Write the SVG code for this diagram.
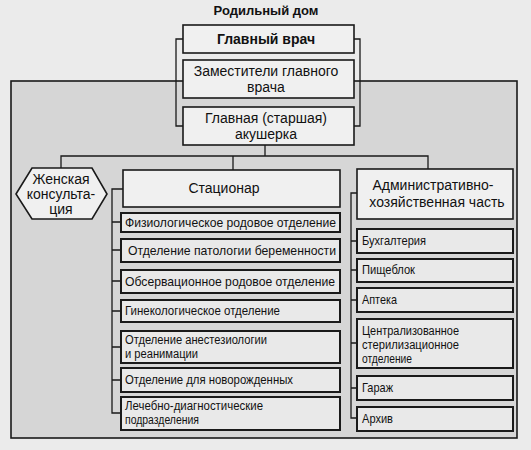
<svg xmlns="http://www.w3.org/2000/svg" width="531" height="450" viewBox="0 0 531 450">
<defs>
<style>
text{font-family:"Liberation Sans",Arial,sans-serif;fill:#111}
.t14{font-size:14px}
.t12{font-size:13px}
.t11{font-size:12px}
.c{text-anchor:middle}
.b{font-weight:bold}
.box{fill:#f0f0f0;stroke:#1a1a1a;stroke-width:1.6}
.sub{fill:#e9e9e9;stroke:#1a1a1a;stroke-width:2}
.ln{fill:none;stroke:#1a1a1a;stroke-width:1.3}
</style>
</defs>
<rect width="531" height="450" fill="#ebebeb"/>
<rect id="frame" x="11" y="81" width="506" height="357" fill="#d6d6d6" stroke="#1a1a1a" stroke-width="1.6"/>
<text class="b c" x="266" y="15" style="font-size:13px">Родильный дом</text>
<g id="connectors">
<path class="ln" d="M183 39 H176 V126 H183"/>
<path class="ln" d="M354 39 H360 V126 H354"/>
<path class="ln" d="M265 145 V156 M61 168 V156 H428 V169 M233 156 V170"/>
<path class="ln" d="M123 189 H112 V413 H121 M112 222 H121 M112 250 H121 M112 281 H121 M112 311 H121 M112 347 H121 M112 380 H121"/>
<path class="ln" d="M357 193 H351 V418 H357 M351 241 H357 M351 270 H357 M351 300 H357 M351 343 H357 M351 388 H357"/>
</g>
<g id="glav">
<rect class="box" x="183" y="25" width="171" height="28"/>
<text class="t14 b c" x="266" y="44">Главный врач</text>
</g>
<g id="zam">
<rect class="box" x="183" y="60" width="171" height="38"/>
<text class="t14 c" x="266" y="76">Заместители главного</text>
<text class="t14 c" x="266" y="92">врача</text>
</g>
<g id="akush">
<rect class="box" x="183" y="107" width="171" height="38"/>
<text class="t14 c" x="266" y="123">Главная (старшая)</text>
<text class="t14 c" x="266" y="139">акушерка</text>
</g>
<g id="zhk">
<polygon class="box" points="16,194 32,168 92,168 107,194 92,219 32,219"/>
<text class="t14 c" x="61" y="184">Женская</text>
<text class="t14 c" x="61" y="199">консульта-</text>
<text class="t14 c" x="61" y="214">ция</text>
</g>
<g id="stac">
<rect class="box" x="123" y="170" width="217" height="37"/>
<text class="t14 c" x="224" y="193">Стационар</text>
</g>
<g id="admin">
<rect class="box" x="357" y="169" width="156" height="50"/>
<text class="t14 c" x="433" y="190">Административно-</text>
<text class="t14 c" x="437" y="207">хозяйственная часть</text>
</g>
<g id="s1"><rect class="sub" x="121" y="213" width="219" height="19"/><text class="t12" x="125" y="227" textLength="211" lengthAdjust="spacingAndGlyphs">Физиологическое родовое отделение</text></g>
<g id="s2"><rect class="sub" x="121" y="239" width="219" height="23"/><text class="t12" x="128" y="255" textLength="208" lengthAdjust="spacingAndGlyphs">Отделение патологии беременности</text></g>
<g id="s3"><rect class="sub" x="121" y="270" width="219" height="23"/><text class="t12" x="125" y="286" textLength="210" lengthAdjust="spacingAndGlyphs">Обсервационное родовое отделение</text></g>
<g id="s4"><rect class="sub" x="121" y="300" width="219" height="22"/><text class="t12" x="125" y="315" textLength="155" lengthAdjust="spacingAndGlyphs">Гинекологическое отделение</text></g>
<g id="s5"><rect class="sub" x="121" y="331" width="219" height="32"/><text class="t11" x="125" y="344" textLength="142" lengthAdjust="spacingAndGlyphs">Отделение анестезиологии</text><text class="t11" x="125" y="358" textLength="73" lengthAdjust="spacingAndGlyphs">и реанимации</text></g>
<g id="s6"><rect class="sub" x="121" y="368" width="219" height="24"/><text class="t12" x="125" y="384" textLength="168" lengthAdjust="spacingAndGlyphs">Отделение для новорожденных</text></g>
<g id="s7"><rect class="sub" x="121" y="397" width="219" height="33"/><text class="t11" x="125" y="410" textLength="138" lengthAdjust="spacingAndGlyphs">Лечебно-диагностические</text><text class="t11" x="125" y="424" textLength="74" lengthAdjust="spacingAndGlyphs">подразделения</text></g>
<g id="a1"><rect class="sub" x="357" y="229" width="156" height="24"/><text class="t12" x="362" y="245" textLength="64" lengthAdjust="spacingAndGlyphs">Бухгалтерия</text></g>
<g id="a2"><rect class="sub" x="357" y="259" width="156" height="23"/><text class="t12" x="362" y="274" textLength="53" lengthAdjust="spacingAndGlyphs">Пищеблок</text></g>
<g id="a3"><rect class="sub" x="357" y="288" width="156" height="24"/><text class="t12" x="362" y="304" textLength="35" lengthAdjust="spacingAndGlyphs">Аптека</text></g>
<g id="a4"><rect class="sub" x="357" y="319" width="156" height="49"/><text class="t11" x="362" y="335" textLength="97" lengthAdjust="spacingAndGlyphs">Централизованное</text><text class="t11" x="362" y="349" textLength="97" lengthAdjust="spacingAndGlyphs">стерилизационное</text><text class="t11" x="362" y="363" textLength="50" lengthAdjust="spacingAndGlyphs">отделение</text></g>
<g id="a5"><rect class="sub" x="357" y="376" width="156" height="24"/><text class="t12" x="362" y="392" textLength="31" lengthAdjust="spacingAndGlyphs">Гараж</text></g>
<g id="a6"><rect class="sub" x="357" y="407" width="156" height="24"/><text class="t12" x="362" y="423" textLength="31" lengthAdjust="spacingAndGlyphs">Архив</text></g>
</svg>
